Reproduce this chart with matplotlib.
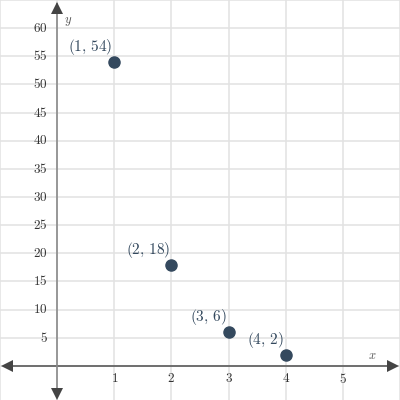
import matplotlib
matplotlib.use('Agg')
import matplotlib.pyplot as plt

plt.rcParams['mathtext.fontset'] = 'cm'

# data points
xs = [1, 2, 3, 4]
ys = [54, 18, 6, 2]

x_ticks = [1, 2, 3, 4, 5]
y_ticks = [5, 10, 15, 20, 25, 30, 35, 40, 45, 50, 55, 60]

x_grid = [-1, 0, 1, 2, 3, 4, 5, 6]
y_grid = [0, 5, 10, 15, 20, 25, 30, 35, 40, 45, 50, 55, 60, 65]

pt_color = '#34495e'

fig = plt.figure(figsize=(4, 4), dpi=100)
ax = fig.add_axes([0, 0, 1, 1])
ax.set_xlim(-1, 6)
ax.set_ylim(-6.05, 65)
ax.axis('off')

# grid
for gx in x_grid:
    ax.axvline(gx, color='#e2e2e2', lw=1.1, zorder=0)
for gy in y_grid:
    ax.axhline(gy, color='#e2e2e2', lw=1.1, zorder=0)

# axes with arrows
ax.plot([-0.93, 5.93], [0, 0], color='#5a5a5a', lw=1.2, zorder=2)
ax.plot([0, 0], [-5.5, 64.3], color='#8a8a8a', lw=1.2, zorder=2)
ax.plot([-0.88], [0], marker='<', ms=9, color='#444444', zorder=3, mew=0)
ax.plot([5.88], [0], marker='>', ms=9, color='#444444', zorder=3, mew=0)
ax.plot([0], [63.6], marker='^', ms=9, color='#444444', zorder=3, mew=0)
ax.plot([0], [-4.9], marker='v', ms=9, color='#444444', zorder=3, mew=0)

# tick labels
for t in x_ticks:
    ax.text(t, -1.0, '$\\mathrm{%d}$' % t, ha='center', va='top',
            fontsize=9.5, color='#333333')
for t in y_ticks:
    ax.text(-0.17, t, '$\\mathrm{%d}$' % t, ha='right', va='center',
            fontsize=9.5, color='#333333')

ax.text(5.52, 1.8, '$x$', ha='center', va='center', fontsize=9, color='#555555')
ax.text(0.19, 61.2, '$y$', ha='center', va='center', fontsize=9, color='#555555')

# points
ax.plot(xs, ys, 'o', color=pt_color, ms=8, zorder=4, ls='none')
for x, y in zip(xs, ys):
    ax.annotate('$\\mathrm{(%d,\\,%d)}$' % (x, y), (x, y), xytext=(-1, 3.5),
                textcoords='offset points', ha='right', va='bottom',
                fontsize=11, color=pt_color)

fig.savefig('out.png', dpi=100)
